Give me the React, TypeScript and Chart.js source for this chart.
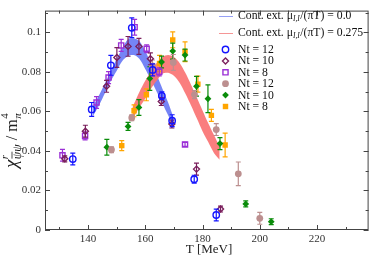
import React, { useEffect, useRef } from 'react';
import { Chart, registerables } from 'chart.js';

Chart.register(...registerables);

// ---------- data ----------
// open symbols
const nt12oT = [134.7, 141.3, 148.0, 155.3, 162.6, 165.8, 169.4, 177.1, 184.8];
const nt12oY = [0.0359, 0.061, 0.0833, 0.1023, 0.081, 0.0679, 0.0553, 0.0257, 0.0076];
const nt12oE = [0.003, 0.0035, 0.005, 0.005, 0.003, 0.002, 0.003, 0.002, 0.003];

const nt10oT = [131.9, 139.1, 146.5, 150.1, 154.0, 157.8, 161.8, 165.6, 169.3, 177.9, 186.3];
const nt10oY = [0.036, 0.050, 0.0727, 0.0873, 0.0929, 0.0929, 0.0866, 0.065, 0.0536, 0.0308, 0.0106];
const nt10oE = [0.0015, 0.003, 0.003, 0.005, 0.005, 0.004, 0.003, 0.002, 0.002, 0.003, 0.0015];

const nt8oT = [131.1, 139.0, 143.0, 147.2, 151.6, 156.3, 160.5, 164.9, 173.9];
const nt8oY = [0.0378, 0.0476, 0.0645, 0.0771, 0.0934, 0.1026, 0.0917, 0.080, 0.0433];
const nt8oE = [0.003, 0.002, 0.003, 0.003, 0.003, 0.004, 0.002, 0.002, 0.001];

// filled symbols
const nt12fT = [148.2, 155.3, 162.5, 169.8, 177.2, 184.8, 192.5, 200.0];
const nt12fY = [0.0406, 0.0568, 0.083, 0.0848, 0.0685, 0.0508, 0.0284, 0.0059];
const nt12fE = [0.0015, 0.0015, 0.003, 0.004, 0.002, 0.003, 0.006, 0.003];

const nt10fT = [146.6, 154.0, 157.8, 161.6, 165.7, 169.6, 173.9, 177.9, 181.9, 186.1, 195.1, 204.0];
const nt10fY = [0.0419, 0.0524, 0.062, 0.0766, 0.085, 0.0905, 0.0885, 0.0727, 0.0664, 0.0437, 0.0132, 0.0042];
const nt10fE = [0.004, 0.002, 0.004, 0.006, 0.003, 0.004, 0.003, 0.005, 0.007, 0.003, 0.0015, 0.0015];

const nt8fT = [151.8, 156.1, 160.4, 165.0, 169.6, 173.9, 178.4, 183.1, 187.9];
const nt8fY = [0.0427, 0.0603, 0.0684, 0.0843, 0.0962, 0.0902, 0.0738, 0.058, 0.043];
const nt8fE = [0.0025, 0.003, 0.003, 0.004, 0.004, 0.005, 0.004, 0.003, 0.006];

// continuum-extrapolation bands
const blueBandT = [141.7, 144, 146, 148, 150, 152, 154, 156, 158, 160, 162, 164, 166, 168, 170];
const blueUpper = [0.0625, 0.0685, 0.0745, 0.0805, 0.0865, 0.092, 0.0965, 0.097, 0.0955, 0.0905, 0.0845, 0.0785, 0.0715, 0.0645, 0.0565];
const blueLower = [0.0575, 0.0635, 0.0695, 0.0755, 0.0805, 0.0855, 0.088, 0.0885, 0.0865, 0.0815, 0.076, 0.070, 0.064, 0.058, 0.0515];

const redBandT = [155.5, 158, 160, 162, 164, 166, 168, 170, 172, 174, 176, 178, 180, 182, 184, 186];
const redUpper = [0.062, 0.070, 0.0755, 0.0805, 0.0845, 0.0875, 0.0885, 0.0875, 0.0845, 0.0795, 0.0735, 0.067, 0.0605, 0.054, 0.048, 0.042];
const redLower = [0.056, 0.062, 0.0665, 0.0715, 0.0755, 0.079, 0.0795, 0.078, 0.0745, 0.069, 0.063, 0.0565, 0.050, 0.0445, 0.039, 0.0355];

const xTicks = [140, 160, 180, 200, 220];
const xMinorTicks = [130, 150, 170, 190, 210, 230];
const yTicks = [0, 0.02, 0.04, 0.06, 0.08, 0.1];
const yTickLabels = ['0', '0.02', '0.04', '0.06', '0.08', '0.1'];
const yMinorTicks = [0.01, 0.03, 0.05, 0.07, 0.09, 0.11];

const legendBands = ['0.0', '0.275'];
const legendPoints = ['Nt = 12', 'Nt = 10', 'Nt = 8', 'Nt = 12', 'Nt = 10', 'Nt = 8'];

const SERIF = '"Liberation Serif", "DejaVu Serif", serif';

type Series = { T: number[]; Y: number[]; E: number[]; color: string; style: string; filled: boolean; r: number };
const series: Series[] = [
  { T: nt12oT, Y: nt12oY, E: nt12oE, color: '#1414ff', style: 'circle', filled: false, r: 3.2 },
  { T: nt10oT, Y: nt10oY, E: nt10oE, color: '#7a1f5c', style: 'rectRot', filled: false, r: 3 },
  { T: nt8oT, Y: nt8oY, E: nt8oE, color: '#9b30d6', style: 'rect', filled: false, r: 3.2 },
  { T: nt12fT, Y: nt12fY, E: nt12fE, color: '#bc8f8f', style: 'circle', filled: true, r: 3.4 },
  { T: nt10fT, Y: nt10fY, E: nt10fE, color: '#0a8c0a', style: 'rectRot', filled: true, r: 3.4 },
  { T: nt8fT, Y: nt8fY, E: nt8fE, color: '#ffa500', style: 'rect', filled: true, r: 3.4 },
];

function drawMarker(ctx: CanvasRenderingContext2D, s: Series, x: number, y: number) {
  ctx.save();
  ctx.beginPath();
  const r = s.r;
  if (s.style === 'circle') ctx.arc(x, y, r, 0, Math.PI * 2);
  else if (s.style === 'rect') ctx.rect(x - r * 0.8, y - r * 0.8, r * 1.6, r * 1.6);
  else {
    ctx.moveTo(x, y - r);
    ctx.lineTo(x + r, y);
    ctx.lineTo(x, y + r);
    ctx.lineTo(x - r, y);
    ctx.closePath();
  }
  if (s.filled) {
    ctx.fillStyle = s.color;
    ctx.fill();
  } else {
    ctx.strokeStyle = s.color;
    ctx.lineWidth = 1.4;
    ctx.stroke();
  }
  ctx.restore();
}

const errorBarPlugin = {
  id: 'errorBars',
  beforeDatasetDraw(chart: any, args: any) {
    const ds = chart.data.datasets[args.index];
    if (!ds.err) return;
    const ctx = chart.ctx;
    const xs = chart.scales.x;
    const ys = chart.scales.y;
    ctx.save();
    ctx.strokeStyle = ds.errColor;
    ctx.lineWidth = 1.2;
    ds.data.forEach((p: any, i: number) => {
      const px = xs.getPixelForValue(p.x);
      const y1 = ys.getPixelForValue(p.y + ds.err[i]);
      const y0 = ys.getPixelForValue(p.y - ds.err[i]);
      ctx.beginPath();
      ctx.moveTo(px, y0);
      ctx.lineTo(px, y1);
      ctx.moveTo(px - 2.5, y0);
      ctx.lineTo(px + 2.5, y0);
      ctx.moveTo(px - 2.5, y1);
      ctx.lineTo(px + 2.5, y1);
      ctx.stroke();
    });
    ctx.restore();
  },
};

const decorPlugin = {
  id: 'decor',
  afterDraw(chart: any) {
    const ctx: CanvasRenderingContext2D = chart.ctx;
    const { left, right, top, bottom } = chart.chartArea;
    const xs = chart.scales.x;
    const ys = chart.scales.y;
    ctx.save();
    // frame
    ctx.strokeStyle = '#444';
    ctx.lineWidth = 1;
    ctx.strokeRect(left + 0.5, top + 0.5, right - left - 1, bottom - top - 1);
    // inward ticks
    ctx.beginPath();
    const tx = (v: number, len: number) => {
      const p = Math.round(xs.getPixelForValue(v)) + 0.5;
      ctx.moveTo(p, bottom);
      ctx.lineTo(p, bottom - len);
      ctx.moveTo(p, top);
      ctx.lineTo(p, top + len);
    };
    const ty = (v: number, len: number) => {
      const p = Math.round(ys.getPixelForValue(v)) + 0.5;
      ctx.moveTo(left, p);
      ctx.lineTo(left + len, p);
      ctx.moveTo(right, p);
      ctx.lineTo(right - len, p);
    };
    xTicks.forEach((v) => tx(v, 5));
    xMinorTicks.forEach((v) => tx(v, 3));
    yTicks.forEach((v) => ty(v, 5));
    yMinorTicks.forEach((v) => ty(v, 3));
    ctx.stroke();

    // x title
    ctx.fillStyle = '#222';
    ctx.font = `13px ${SERIF}`;
    ctx.textAlign = 'center';
    ctx.textBaseline = 'alphabetic';
    ctx.fillText('T [MeV]', 209, 253);

    // y title (rotated)
    ctx.save();
    ctx.translate(17, 168);
    ctx.rotate(-Math.PI / 2);
    ctx.textAlign = 'left';
    let x = 0;
    ctx.font = `italic 19px ${SERIF}`;
    ctx.fillText('χ', x, 0);
    x += ctx.measureText('χ').width + 0.5;
    ctx.font = `italic 11px ${SERIF}`;
    ctx.fillText('r', x, -9);
    ctx.font = `italic 12px ${SERIF}`;
    const wpsi = ctx.measureText('ψ').width;
    ctx.fillText('ψψ', x, 4);
    ctx.lineWidth = 0.8;
    ctx.strokeStyle = '#222';
    ctx.beginPath();
    ctx.moveTo(x + 0.5, -5);
    ctx.lineTo(x + wpsi, -5);
    ctx.stroke();
    x += ctx.measureText('ψψ').width;
    ctx.font = `16px ${SERIF}`;
    ctx.fillText(' / m', x, 0);
    x += ctx.measureText(' / m').width + 0.5;
    ctx.font = `11px ${SERIF}`;
    ctx.fillText('4', x, -9);
    ctx.font = `italic 11px ${SERIF}`;
    ctx.fillText('π', x, 4);
    ctx.restore();

    // legend
    const lx0 = 219;
    const lx1 = 233;
    const tx0 = 238;
    const bandCols = ['rgb(150,160,245)', 'rgb(245,150,150)'];
    const bandY = [15.5, 32.5];
    const F = 11.7;
    ctx.textAlign = 'left';
    ctx.textBaseline = 'middle';
    legendBands.forEach((val, i) => {
      const y = bandY[i];
      const ly = Math.round(y) + 0.5;
      ctx.strokeStyle = bandCols[i];
      ctx.lineWidth = 1;
      ctx.beginPath();
      ctx.moveTo(lx0, ly);
      ctx.lineTo(lx1, ly);
      ctx.stroke();
      ctx.fillStyle = '#111';
      let xx = tx0;
      ctx.font = `${F}px ${SERIF}`;
      ctx.fillText('Cont. ext. μ', xx, y);
      xx += ctx.measureText('Cont. ext. μ').width;
      ctx.font = `italic 7.5px ${SERIF}`;
      ctx.fillText('I,I', xx, y + 4);
      xx += ctx.measureText('I,I').width + 0.5;
      ctx.font = `${F}px ${SERIF}`;
      ctx.fillText('/(πT) = ' + val, xx, y);
    });
    legendPoints.forEach((lab, i) => {
      const y = 49.5 + i * 11.4;
      drawMarker(ctx, series[i], 225.5, y);
      ctx.fillStyle = '#111';
      ctx.font = `${F}px ${SERIF}`;
      ctx.fillText(lab, tx0, y + 0.5);
    });
    ctx.restore();
  },
};

export default function App() {
  const ref = useRef<HTMLCanvasElement>(null);
  useEffect(() => {
    document.body.style.margin = '0';
    const canvas = ref.current!;
    const pointDatasets = series.map((s) => ({
      type: 'scatter' as const,
      data: s.T.map((t, i) => ({ x: t, y: s.Y[i] })),
      err: s.E,
      errColor: s.color,
      pointStyle: s.style,
      pointRadius: s.style === 'rect' ? s.r * 1.13 : s.r,
      pointBorderWidth: s.filled ? 0 : 1.4,
      pointBorderColor: s.color,
      pointBackgroundColor: s.filled ? s.color : 'rgba(0,0,0,0)',
      showLine: false,
    }));
    const bandLine = (T: number[], Y: number[], col: string, fill: any) => ({
      type: 'line' as const,
      data: T.map((t, i) => ({ x: t, y: Y[i] })),
      borderWidth: 0,
      borderColor: 'rgba(0,0,0,0)',
      backgroundColor: col,
      pointRadius: 0,
      fill,
      tension: 0.3,
    });
    const redCol = 'rgba(250,115,115,0.92)';
    const blueCol = 'rgba(105,122,245,0.92)';
    const n = series.length;
    const chart = new Chart(canvas, {
      data: {
        datasets: [
          ...pointDatasets,
          bandLine(redBandT, redUpper, redCol, n + 1),
          bandLine(redBandT, redLower, redCol, false),
          bandLine(blueBandT, blueUpper, blueCol, n + 3),
          bandLine(blueBandT, blueLower, blueCol, false),
        ] as any,
      },
      options: {
        animation: false,
        responsive: false,
        maintainAspectRatio: false,
        layout: { padding: { top: 2, right: 1, left: 0, bottom: 0 } },
        plugins: { legend: { display: false }, tooltip: { enabled: false } },
        scales: {
          x: {
            type: 'linear',
            min: 125,
            max: 238,
            grid: { display: false, drawTicks: false },
            border: { display: false },
            afterBuildTicks: (s: any) => {
              s.ticks = xTicks.map((v) => ({ value: v }));
            },
            afterFit: (s: any) => {
              s.height = 27;
            },
            ticks: {
              padding: 3,
              maxRotation: 0,
              color: '#333',
              font: { family: SERIF, size: 11 },
              callback: (v: any) => String(v),
            },
          },
          y: {
            type: 'linear',
            min: 0,
            max: 0.111,
            grid: { display: false, drawTicks: false },
            border: { display: false },
            afterBuildTicks: (s: any) => {
              s.ticks = yTicks.map((v) => ({ value: v }));
            },
            afterFit: (s: any) => {
              s.width = 45;
            },
            ticks: {
              padding: 4,
              color: '#333',
              font: { family: SERIF, size: 11 },
              callback: (_v: any, i: number) => yTickLabels[i],
            },
          },
        },
      } as any,
      plugins: [errorBarPlugin, decorPlugin],
    });
    return () => chart.destroy();
  }, []);
  return (
    <div style={{ width: 374, height: 257 }}>
      <canvas ref={ref} width={374} height={257} style={{ display: 'block', width: 374, height: 257 }} />
    </div>
  );
}
